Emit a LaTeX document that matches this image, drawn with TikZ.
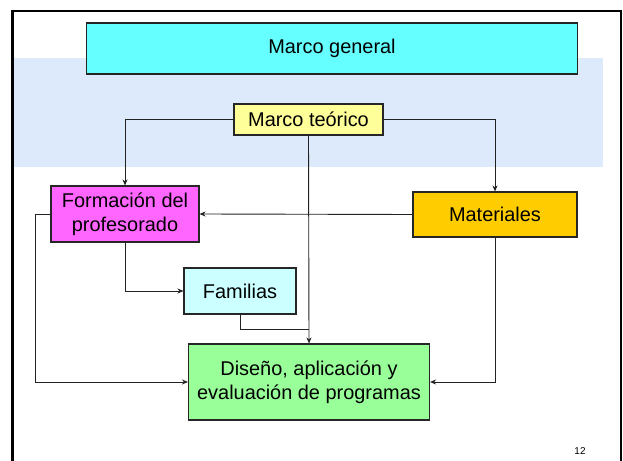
\documentclass[tikz,border=0pt]{standalone}
\usepackage{fontspec}
\setmainfont{Liberation Sans}
\usetikzlibrary{arrows.meta}
\definecolor{cgen}{HTML}{66FFFF}
\definecolor{cteo}{HTML}{FFFF99}
\definecolor{cform}{HTML}{FF66FF}
\definecolor{cmat}{HTML}{FFCC00}
\definecolor{cfam}{HTML}{CCFFFF}
\definecolor{cdis}{HTML}{99FF99}
\definecolor{cband}{HTML}{DDEAFB}
\definecolor{cline}{HTML}{222222}
\tikzset{
  box/.style={draw=black!85, line width=1.1bp, inner sep=0pt, align=center,
    font=\fontsize{20}{24}\selectfont},
  conn/.style={draw=cline, line width=0.9bp},
  arr/.style={conn, -{Stealth[length=6bp,width=5bp]}}
}
\begin{document}
\begin{tikzpicture}[x=1bp,y=-1bp]
\useasboundingbox (0,0) rectangle (623,461);
\fill[white] (0,0) rectangle (623,461);
% background band
\fill[cband] (12,58) rectangle (603,167);
% frame
\draw[black, line width=2.5bp] (12.5,480) -- (12.5,11) -- (621,11) -- (621,480);
% nodes
\node[box, fill=cgen, minimum width=491bp, minimum height=51bp] (gen) at (332,48.5) {Marco general};
\node[box, fill=cteo, minimum width=149bp, minimum height=31bp] (teo) at (308.5,119.5) {Marco teórico};
\node[box, fill=cform, minimum width=148bp, minimum height=56bp] (form) at (125,214) {Formación del\\profesorado};
\node[box, fill=cmat, minimum width=164bp, minimum height=45bp] (mat) at (495,214.5) {Materiales};
\node[box, fill=cfam, minimum width=112bp, minimum height=46bp] (fam) at (240,291) {Familias};
\node[box, fill=cdis, minimum width=241bp, minimum height=76bp] (dis) at (309,382) {Diseño, aplicación y\\evaluación de programas};
\node[font=\fontsize{10}{12}\selectfont, inner sep=0pt] (num) at (580,451.5) {12};
% connectors
\draw[arr] (teo.west) -| (form.north);
\draw[arr] (teo.east) -| (mat.north);
\draw[arr] (teo.south) -- (dis.north);
\draw[arr] (mat.west) -- (form.east);
\draw[arr] (form.west) -- ++(-15,0) |- (dis.west);
\draw[arr] (form.south) |- (fam.west);
\coordinate (j) at (teo.south |- 0,329);
\draw[conn] (fam.south) |- (j);
\draw[arr] (mat.south) |- (dis.east);
\end{tikzpicture}
\end{document}
